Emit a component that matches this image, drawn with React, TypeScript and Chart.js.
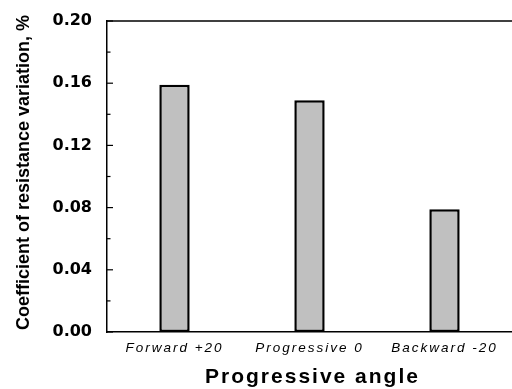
import React, { useEffect, useRef } from "react";
import { Chart, registerables } from "chart.js";

Chart.register(...registerables);

const categories: string[] = ["Forward +20", "Progressive 0", "Backward -20"];
const values: number[] = [0.159, 0.149, 0.079];
const yTitle = "Coefficient of resistance variation, %";
const xTitle = "Progressive angle";

const framePlugin = {
  id: "framePlugin",
  afterDraw(chart: any) {
    const { ctx, chartArea } = chart;
    const y = chart.scales.y;
    const x = chart.scales.x;
    ctx.save();
    ctx.strokeStyle = "#000";
    ctx.lineWidth = 1.5;
    // top line
    ctx.beginPath();
    ctx.moveTo(chartArea.left, chartArea.top);
    ctx.lineTo(chartArea.right, chartArea.top);
    ctx.stroke();
    // inward ticks
    ctx.lineWidth = 1.2;
    const ticks = y.ticks.map((t: any) => t.value);
    ticks.forEach((v: number, i: number) => {
      const py = y.getPixelForValue(v);
      ctx.beginPath();
      ctx.moveTo(chartArea.left, py);
      ctx.lineTo(chartArea.left + 6, py);
      ctx.stroke();
      if (i < ticks.length - 1) {
        const mv = (v + ticks[i + 1]) / 2;
        const pm = y.getPixelForValue(mv);
        ctx.beginPath();
        ctx.moveTo(chartArea.left, pm);
        ctx.lineTo(chartArea.left + 3.5, pm);
        ctx.stroke();
      }
    });
    // x tick labels, italic and letter spaced
    ctx.fillStyle = "#000";
    ctx.font = "italic 13.5px 'Liberation Sans', Arial, sans-serif";
    (ctx as any).letterSpacing = "2px";
    ctx.textAlign = "center";
    ctx.textBaseline = "middle";
    chart.data.labels.forEach((lab: string, i: number) => {
      const px = x.getPixelForValue(i);
      ctx.fillText(lab, px, chartArea.bottom + 16);
    });
    // x title
    ctx.font = "bold 21px 'Liberation Sans', Arial, sans-serif";
    (ctx as any).letterSpacing = "2px";
    ctx.textBaseline = "alphabetic";
    ctx.fillText(xTitle, (chartArea.left + chartArea.right) / 2 + 3, chartArea.bottom + 51);
    // y title
    ctx.font = "bold 18px 'Liberation Sans', Arial, sans-serif";
    (ctx as any).letterSpacing = "0px";
    ctx.textBaseline = "middle";
    ctx.translate(24, (chartArea.top + chartArea.bottom) / 2 - 4);
    ctx.rotate(-Math.PI / 2);
    ctx.fillText(yTitle, 0, 0);
    ctx.restore();
  },
};

export default function App() {
  const ref = useRef<HTMLCanvasElement | null>(null);
  useEffect(() => {
    if (!ref.current) return;
    const chart = new Chart(ref.current, {
      type: "bar",
      data: {
        labels: categories,
        datasets: [
          {
            data: values,
            backgroundColor: "#c0c0c0",
            borderColor: "#000",
            borderWidth: 2.5,
            borderSkipped: false,
            categoryPercentage: 1,
            barPercentage: 0.225,
          },
        ],
      },
      options: {
        responsive: false,
        animation: false,
        layout: { padding: { top: 21, right: 0, left: 0, bottom: 0 } },
        plugins: { legend: { display: false }, tooltip: { enabled: false } },
        scales: {
          x: {
            grid: { display: false, drawTicks: false },
            border: { display: true, color: "#000", width: 1.5 },
            ticks: { display: false },
            title: { display: false },
            afterFit(scale: any) {
              scale.height = 57;
            },
          },
          y: {
            min: 0,
            max: 0.2,
            grid: { display: false, drawTicks: false },
            border: { display: true, color: "#000", width: 1.5 },
            ticks: {
              stepSize: 0.04,
              padding: 15,
              color: "#000",
              font: { family: "'DejaVu Sans', sans-serif", size: 16, weight: "bold" },
              callback: (v: any) => Number(v).toFixed(2),
            },
            title: { display: false },
            afterFit(scale: any) {
              scale.width = 107;
              scale.paddingTop = 0;
              scale.paddingBottom = 0;
            },
          },
        },
      },
      plugins: [framePlugin],
    });
    return () => chart.destroy();
  }, []);
  return (
    <div style={{ position: "absolute", left: 0, top: 0, width: 512, height: 389, background: "#fff" }}>
      <canvas ref={ref} width={512} height={389} style={{ display: "block" }} />
    </div>
  );
}
